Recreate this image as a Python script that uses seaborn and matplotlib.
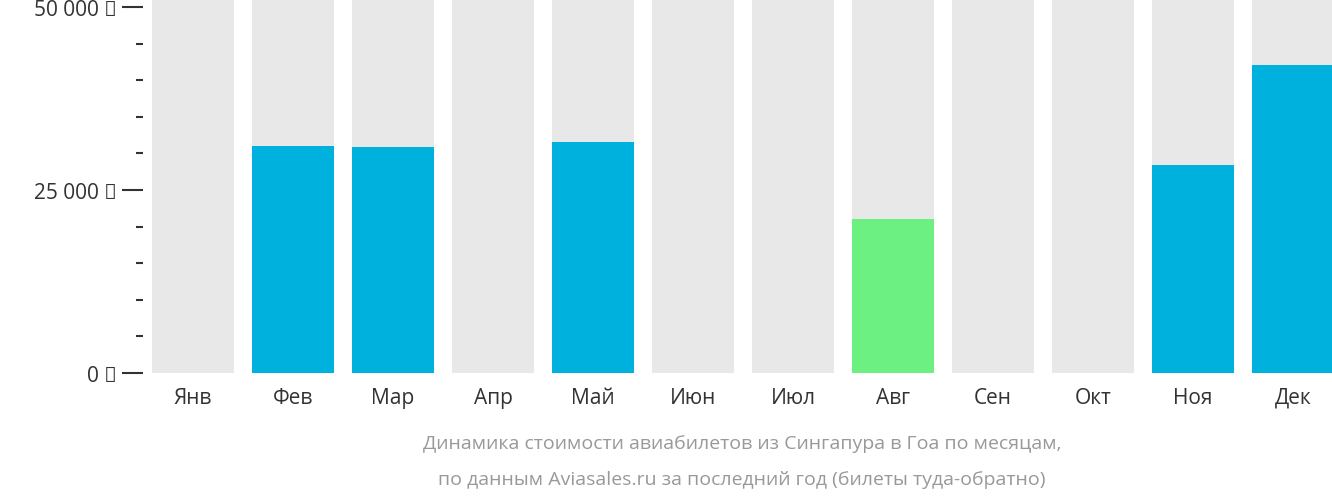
import matplotlib
matplotlib.use("Agg")
import matplotlib.pyplot as plt
import seaborn as sns
import pandas as pd
from matplotlib.ticker import FixedLocator, MultipleLocator

months = ["Янв", "Фев", "Мар", "Апр", "Май", "Июн", "Июл", "Авг", "Сен", "Окт", "Ноя", "Дек"]
prices = [0, 31000, 30900, 0, 31550, 0, 0, 21050, 0, 0, 28400, 42100]
bar_colors = ["#00b1dd"] * 12
bar_colors[7] = "#6cf082"
bg_value = 51100

plt.rcParams["font.family"] = "Open Sans"
fig = plt.figure(figsize=(13.32, 5.02), dpi=100)
ax = fig.add_axes([143/1332, 128/502, 1189/1332, 374/502])

df = pd.DataFrame({"month": months, "price": prices, "bg": [bg_value]*12})
sns.barplot(data=df, x="month", y="bg", color="#e8e8e8", width=0.82, ax=ax, saturation=1)
sns.barplot(data=df, x="month", y="price", hue="month", palette=bar_colors, width=0.82,
            ax=ax, saturation=1, legend=False)

ax.set_xlim(-0.5, 11.39)
ax.set_ylim(0, bg_value)
for s in ax.spines.values():
    s.set_visible(False)
ax.set_xlabel("")
ax.set_ylabel("")
ax.yaxis.set_major_locator(FixedLocator([0, 25000, 50000]))
ax.set_yticklabels(["0 ₽", "25 000 ₽", "50 000 ₽"])
ax.yaxis.set_minor_locator(MultipleLocator(5000))
ax.tick_params(axis="y", which="major", length=15, width=1.5, color="#333333",
               labelsize=15, labelcolor="#333333", pad=4)
ax.tick_params(axis="y", which="minor", length=5, width=1.5, color="#333333")
ax.tick_params(axis="x", length=0, labelsize=15, labelcolor="#333333", pad=10)

fig.text(0.5 + 0.0, 444/502, "", ha="center")
fig.text(742/1332, 1 - 444/502, "Динамика стоимости авиабилетов из Сингапура в Гоа по месяцам,",
         ha="center", va="center", fontsize=14, color="#999999")
fig.text(742/1332, 1 - 480/502, "по данным Aviasales.ru за последний год (билеты туда-обратно)",
         ha="center", va="center", fontsize=14, color="#999999")

fig.savefig("out.png", dpi=100)
